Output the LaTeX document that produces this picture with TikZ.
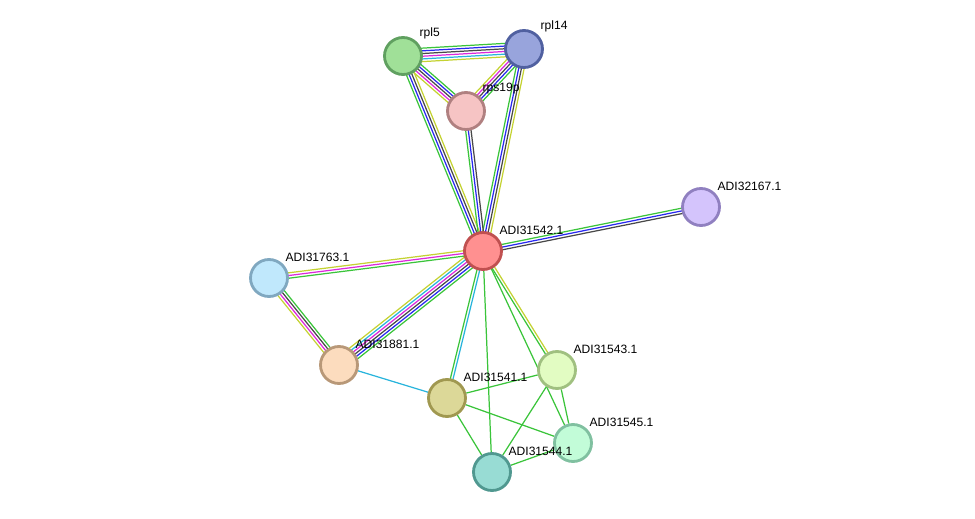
\documentclass[tikz,border=0pt]{standalone}
\usepackage{fontspec}
\setmainfont{Liberation Sans}
\usetikzlibrary{calc,backgrounds}

% evidence colours
\definecolor{lgreen}{RGB}{58,196,58}
\definecolor{lblue}{RGB}{40,40,240}
\definecolor{lblack}{RGB}{72,72,72}
\definecolor{lmagenta}{RGB}{220,40,220}
\definecolor{lcyan}{RGB}{40,180,220}
\definecolor{lyellow}{RGB}{196,210,50}

\newcommand{\linksep}{2.3}
% #1, #2 nodes, #3 number of lines, #4 colours
\newcommand{\stringlink}[4]{%
  \foreach \c [count=\i] in {#4} {
    \pgfmathsetmacro{\off}{(\i-(#3+1)/2)*\linksep}
    \draw[link, \c] ($(#1.center)!\off pt!-90:(#2.center)$) -- ($(#2.center)!\off pt!90:(#1.center)$);
  }}

\begin{document}
\begin{tikzpicture}[
    x=0.03cm, y=-0.03cm,
    protein/.style={circle, draw, line width=2.4pt, minimum size=1.11cm, inner sep=0},
    lbl/.style={font=\fontsize{10.3}{12}\selectfont, inner sep=0, anchor=south west},
    label distance=0.1cm,
    link/.style={line width=1.05pt}
]
    \useasboundingbox (0,0) rectangle (975,518);

    \node[protein, fill={rgb,255:red,160;green,224;blue,152}, draw={rgb,255:red,96;green,160;blue,96}, label={[lbl]45:rpl5}] (rpl5) at (403,56) {};
    \node[protein, fill={rgb,255:red,152;green,164;blue,220}, draw={rgb,255:red,80;green,96;blue,160}, label={[lbl]45:rpl14}] (rpl14) at (524,49) {};
    \node[protein, fill={rgb,255:red,246;green,196;blue,196}, draw={rgb,255:red,176;green,128;blue,128}, label={[lbl]45:rps19p}] (rps) at (466,111) {};
    \node[protein, fill={rgb,255:red,255;green,144;blue,144}, draw={rgb,255:red,192;green,80;blue,80}, label={[lbl]45:ADI31542.1}] (a542) at (483,251) {};
    \node[protein, fill={rgb,255:red,212;green,196;blue,252}, draw={rgb,255:red,144;green,128;blue,192}, label={[lbl]45:ADI32167.1}] (a167) at (701,207) {};
    \node[protein, fill={rgb,255:red,192;green,232;blue,252}, draw={rgb,255:red,128;green,168;blue,192}, label={[lbl]45:ADI31763.1}] (a763) at (269,278) {};
    \node[protein, fill={rgb,255:red,252;green,220;blue,190}, draw={rgb,255:red,184;green,152;blue,120}, label={[lbl]45:ADI31881.1}] (a881) at (339,365) {};
    \node[protein, fill={rgb,255:red,220;green,216;blue,152}, draw={rgb,255:red,160;green,152;blue,80}, label={[lbl]45:ADI31541.1}] (a541) at (447,398) {};
    \node[protein, fill={rgb,255:red,226;green,252;blue,194}, draw={rgb,255:red,160;green,192;blue,128}, label={[lbl]45:ADI31543.1}] (a543) at (557,370) {};
    \node[protein, fill={rgb,255:red,194;green,252;blue,216}, draw={rgb,255:red,128;green,192;blue,160}, label={[lbl]45:ADI31545.1}] (a545) at (573,443) {};
    \node[protein, fill={rgb,255:red,152;green,220;blue,212}, draw={rgb,255:red,80;green,152;blue,144}, label={[lbl]45:ADI31544.1}] (a544) at (492,472) {};

    \begin{scope}[on background layer]
        \stringlink{rpl5}{rpl14}{6}{lgreen,lblue,lblack,lmagenta,lcyan,lyellow}
        \stringlink{rpl5}{rps}{5}{lgreen,lblue,lblack,lmagenta,lyellow}
        \stringlink{rpl14}{rps}{5}{lgreen,lblue,lblack,lmagenta,lyellow}
        \stringlink{a542}{rpl5}{4}{lgreen,lblue,lblack,lyellow}
        \stringlink{a542}{rpl14}{4}{lgreen,lblue,lblack,lyellow}
        \stringlink{a542}{rps}{3}{lgreen,lblue,lblack}
        \stringlink{a542}{a167}{3}{lgreen,lblue,lblack}
        \stringlink{a763}{a542}{3}{lyellow,lmagenta,lgreen}
        \stringlink{a881}{a763}{4}{lyellow,lmagenta,lblack,lgreen}
        \stringlink{a881}{a542}{6}{lyellow,lcyan,lmagenta,lblack,lblue,lgreen}
        \stringlink{a541}{a542}{2}{lgreen,lcyan}
        \stringlink{a543}{a542}{2}{lgreen,lyellow}
        \draw[link, lgreen] (a542) -- (a544);
        \draw[link, lgreen] (a542) -- (a545);
        \draw[link, lcyan] (a881) -- (a541);
        \draw[link, lgreen] (a541) -- (a543);
        \draw[link, lgreen] (a541) -- (a545);
        \draw[link, lgreen] (a541) -- (a544);
        \draw[link, lgreen] (a543) -- (a544);
        \draw[link, lgreen] (a543) -- (a545);
        \draw[link, lgreen] (a544) -- (a545);
    \end{scope}
\end{tikzpicture}
\end{document}
